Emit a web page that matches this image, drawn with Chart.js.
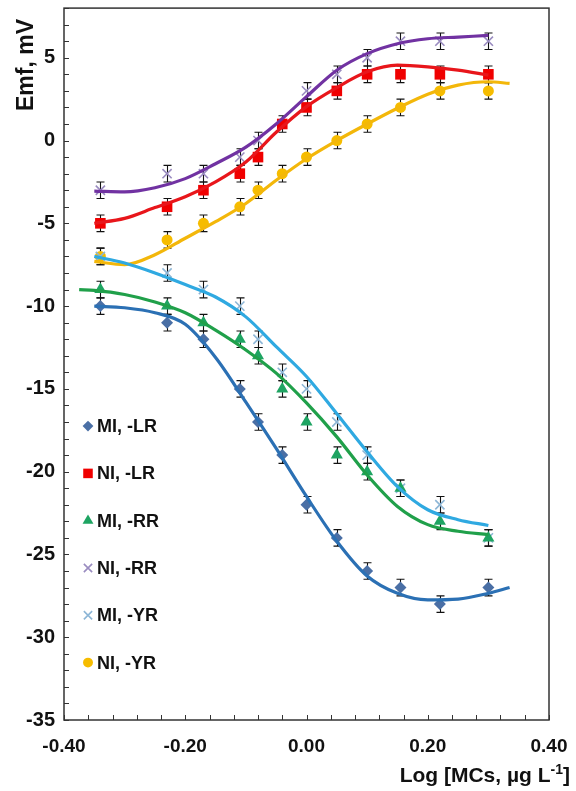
<!DOCTYPE html>
<html>
<head>
<meta charset="utf-8">
<script src="https://cdn.jsdelivr.net/npm/chart.js@4.4.1/dist/chart.umd.min.js"></script>
<style>
  html, body { margin: 0; padding: 0; background: #fff; }
  canvas { display: block; }
</style>
</head>
<body>
<canvas id="chart" width="576" height="791"></canvas>
<script>
// measured points: Log [MCs, ug/L] on x
var logConc = [-0.34, -0.23, -0.17, -0.11, -0.08, -0.04, 0.00, 0.05, 0.10, 0.155, 0.22, 0.30];

// Emf, mV (null = marker not visible)
var emfMiLR = [-10, -11, -12, -15, -17, -19, -22, -24, -26, -27, -28, -27];
var emfNiLR = [-5, -4, -3, -2, -1, 1, 2, 3, 4, 4, 4, 4];
var emfMiRR = [-9, -10, -11, -12, -13, -15, -17, -19, -20, -21, -23, -24];
var emfNiRR = [-3, -2, -2, -1, 0, null, 3, 4, 5, 6, 6, 6];
var emfMiYR = [-7, -8, -9, -10, -12, -14, -15, -17, -19, -21, -22, -24];
var emfNiYR = [-7, -6, -5, -4, -3, -2, -1, 0, 1, 2, 3, 3];
var emfErr  = [0.5, 0.5, 0.5, 0.5, 0.5, 0.5, 0.5, 0.5, 0.5, 0.5, 0.5, 0.5];

// fitted curves
var fitX     = [-0.375, -0.35, -0.30, -0.25, -0.20, -0.15, -0.10, -0.05, 0.00, 0.05, 0.10, 0.15, 0.20, 0.25, 0.30, 0.335];
var fitMiLR  = [null, -10.0, -10.1, -10.4, -11.1, -13.1, -15.8, -18.6, -21.5, -24.2, -26.3, -27.35, -27.75, -27.7, -27.35, -27.0];
var fitNiLR  = [null, -5.0, -4.7, -4.05, -3.4, -2.5, -1.3, 0.5, 2.05, 3.2, 4.15, 4.55, 4.45, 4.25, 3.95, null];
var fitMiRR  = [-9.0, -9.05, -9.3, -9.75, -10.4, -11.45, -12.65, -14.05, -15.85, -17.9, -20.2, -22.1, -23.2, -23.6, -23.8, null];
var fitNiRR  = [null, -3.05, -3.1, -2.85, -2.3, -1.4, -0.4, 1.0, 2.65, 4.25, 5.25, 5.85, 6.15, 6.25, 6.35, null];
var fitMiYR  = [null, -7.0, -7.4, -8.0, -8.7, -9.45, -10.65, -12.45, -14.25, -16.5, -18.8, -20.9, -22.3, -22.9, -23.25, null];
var fitNiYR  = [null, -7.3, -7.5, -6.9, -5.9, -4.9, -3.8, -2.4, -1.1, 0.0, 1.0, 1.95, 2.8, 3.35, 3.55, 3.45];

var xTicks = [-0.4, -0.2, 0, 0.2, 0.4];
var yTicks = [-35, -30, -25, -20, -15, -10, -5, 0, 5];

var FONT = "'Liberation Sans', Arial, sans-serif";

var series = [
    { label: 'MI, -LR', pts: emfMiLR, fit: fitMiLR, style: 'rectRot',  radius: 6,   fill: '#4A6FA5', line: '#2B70B4' },
    { label: 'NI, -LR', pts: emfNiLR, fit: fitNiLR, style: 'rect',     radius: 7.5, fill: '#F00000', line: '#E8161B' },
    { label: 'MI, -RR', pts: emfMiRR, fit: fitMiRR, style: 'triangle', radius: 7,   fill: '#1EA462', line: '#20A04A' },
    { label: 'NI, -RR', pts: emfNiRR, fit: fitNiRR, style: 'crossRot', radius: 6.5, fill: '#9A8CC0', line: '#7132A2' },
    { label: 'MI, -YR', pts: emfMiYR, fit: fitMiYR, style: 'crossRot', radius: 6.5, fill: '#8DB6D6', line: '#2FA9E1' },
    { label: 'NI, -YR', pts: emfNiYR, fit: fitNiYR, style: 'circle',   radius: 5.5, fill: '#F6BC00', line: '#F3B70A' }
];

function pairs( xs, ys ) {
    var out = [];
    for ( var i = 0; i < xs.length; i++ ) {
        if ( ys[ i ] !== null ) out.push( { x: xs[ i ], y: ys[ i ] } );
    }
    return out;
}

var datasets = [];
series.forEach( function( s ) {
    var cross = s.style.indexOf( 'cross' ) === 0;
    datasets.push({
        label: s.label,
        data: pairs( logConc, s.pts ),
        errors: emfErr.filter( function( e, i ) { return s.pts[ i ] !== null; } ),
        showLine: false,
        pointStyle: s.style,
        pointRadius: s.radius,
        pointHoverRadius: s.radius,
        backgroundColor: s.fill,
        borderColor: s.fill,
        pointBorderWidth: cross ? 1.6 : 0,
        order: 1
    });
});
series.forEach( function( s ) {
    datasets.push({
        label: s.label + ' fit',
        isFit: true,
        data: pairs( fitX, s.fit ),
        showLine: true,
        pointRadius: 0,
        borderColor: s.line,
        borderWidth: 3.2,
        cubicInterpolationMode: 'monotone',
        order: 0
    });
});

// error bars under the markers
var errorBars = {
    id: 'errorBars',
    beforeDatasetsDraw: function( chart ) {
        var ctx = chart.ctx, xs = chart.scales.x, ys = chart.scales.y;
        ctx.save();
        ctx.strokeStyle = '#111';
        ctx.lineWidth = 1.1;
        chart.data.datasets.forEach( function( ds ) {
            if ( ds.isFit ) return;
            ds.data.forEach( function( p, i ) {
                var px = Math.round( xs.getPixelForValue( p.x ) ) + 0.5;
                var top = ys.getPixelForValue( p.y + ds.errors[ i ] );
                var bot = ys.getPixelForValue( p.y - ds.errors[ i ] );
                ctx.beginPath();
                ctx.moveTo( px, top ); ctx.lineTo( px, bot );
                ctx.moveTo( px - 4, top ); ctx.lineTo( px + 4, top );
                ctx.moveTo( px - 4, bot ); ctx.lineTo( px + 4, bot );
                ctx.stroke();
            });
        });
        ctx.restore();
    }
};

// plot frame, inside minor ticks, titles and the in-plot legend
var decorations = {
    id: 'decorations',
    afterDraw: function( chart ) {
        var ctx = chart.ctx, a = chart.chartArea, xs = chart.scales.x, ys = chart.scales.y;
        ctx.save();
        ctx.strokeStyle = '#333';
        ctx.lineWidth = 1.5;
        ctx.strokeRect( a.left, a.top, a.right - a.left, a.bottom - a.top );

        ctx.lineWidth = 1;
        ctx.beginPath();
        for ( var k = 0; k <= 20; k++ ) {
            var px = Math.round( xs.getPixelForValue( xs.min + k * 0.04 ) ) + 0.5;
            ctx.moveTo( px, a.bottom ); ctx.lineTo( px, a.bottom - 5 );
        }
        for ( var v = ys.min; v <= ys.max; v++ ) {
            var py = Math.round( ys.getPixelForValue( v ) ) + 0.5;
            ctx.moveTo( a.left, py ); ctx.lineTo( a.left + 5, py );
        }
        ctx.stroke();

        ctx.fillStyle = '#111';
        ctx.textBaseline = 'middle';

        // y title
        ctx.save();
        ctx.font = 'bold 23px ' + FONT;
        ctx.translate( 27, 19 );
        ctx.rotate( -Math.PI / 2 );
        ctx.textAlign = 'right';
        ctx.fillText( 'Emf, mV', 0, 0 );
        ctx.restore();

        // x title with superscript
        var main = 'Log [MCs, \u00b5g L', sup = '-1', tail = ']';
        ctx.font = 'bold 21px ' + FONT;
        var wMain = ctx.measureText( main ).width, wTail = ctx.measureText( tail ).width;
        ctx.font = 'bold 14px ' + FONT;
        var wSup = ctx.measureText( sup ).width;
        var xEnd = 570, yMid = 776;
        var x0 = xEnd - wMain - wSup - wTail;
        ctx.textAlign = 'left';
        ctx.font = 'bold 21px ' + FONT;
        ctx.fillText( main, x0, yMid );
        ctx.fillText( tail, x0 + wMain + wSup, yMid );
        ctx.font = 'bold 14px ' + FONT;
        ctx.fillText( sup, x0 + wMain, yMid - 6 );

        // legend
        var lx = a.left + 24, ly = a.top + 418, step = 47.3;
        var pointSets = chart.data.datasets.filter( function( d ) { return !d.isFit; } );
        pointSets.forEach( function( d, i ) {
            var y = ly + i * step;
            ctx.fillStyle = d.backgroundColor;
            ctx.strokeStyle = d.borderColor;
            ctx.lineWidth = d.pointBorderWidth;
            if ( Chart.helpers && Chart.helpers.drawPoint ) {
                Chart.helpers.drawPoint( ctx, { pointStyle: d.pointStyle, radius: d.pointRadius * 0.9, borderWidth: d.pointBorderWidth, rotation: 0 }, lx, y );
            }
            ctx.fillStyle = '#111';
            ctx.font = 'bold 18px ' + FONT;
            ctx.textAlign = 'left';
            ctx.fillText( d.label, lx + 9, y + 1 );
        });
        ctx.restore();
    }
};

function noPadding( scale ) {
    scale.paddingTop = 0;
    scale.paddingBottom = 0;
    scale.paddingLeft = 0;
    scale.paddingRight = 0;
}

new Chart( document.getElementById( 'chart' ), {
    type: 'scatter',
    data: { datasets: datasets },
    plugins: [ errorBars, decorations ],
    options: {
        responsive: false,
        devicePixelRatio: 1,
        animation: false,
        layout: { padding: { top: 8, right: 27, left: 0, bottom: 0 } },
        plugins: { legend: { display: false }, tooltip: { enabled: false } },
        elements: { line: { fill: false } },
        scales: {
            x: {
                type: 'linear',
                min: -0.4,
                max: 0.4,
                afterBuildTicks: function( scale ) {
                    scale.ticks = xTicks.map( function( v ) { return { value: v }; } );
                },
                afterFit: function( scale ) { scale.height = 71; noPadding( scale ); },
                ticks: {
                    padding: 15,
                    color: '#111',
                    font: { family: FONT, size: 19, weight: 'bold' },
                    callback: function( v ) { return Number( v ).toFixed( 2 ); }
                },
                grid: { display: false, drawTicks: false },
                border: { display: false }
            },
            y: {
                type: 'linear',
                min: -35,
                max: 8,
                afterBuildTicks: function( scale ) {
                    scale.ticks = yTicks.map( function( v ) { return { value: v }; } );
                },
                afterFit: function( scale ) { scale.width = 64; noPadding( scale ); },
                ticks: {
                    padding: 9,
                    color: '#111',
                    font: { family: FONT, size: 20, weight: 'bold' },
                    callback: function( v ) { return String( v ); }
                },
                grid: { display: false, drawTicks: false },
                border: { display: false }
            }
        }
    }
});
</script>
</body>
</html>
